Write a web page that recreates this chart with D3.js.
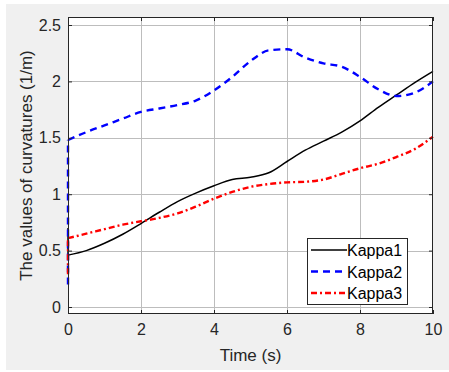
<!DOCTYPE html>
<html>
<head>
<meta charset="utf-8">
<script src="https://cdn.jsdelivr.net/npm/d3@7"></script>
<style>
  html, body { margin: 0; padding: 0; background: #ffffff; }
  svg { display: block; }
  text { font-family: "Liberation Sans", Arial, sans-serif; }
</style>
</head>
<body>
<svg id="chart" width="449" height="372"></svg>
<script>
// Time samples (s)
const time = [0, 0.5, 1, 1.5, 2, 2.5, 3, 3.5, 4, 4.5, 5, 5.5, 6, 6.5, 7, 7.5, 8, 8.5, 9, 9.5, 10];

// Curvature series (1/m)
const kappa1 = [0.46, 0.50, 0.565, 0.645, 0.74, 0.84, 0.935, 1.01, 1.075, 1.13, 1.15, 1.19, 1.29, 1.39, 1.47, 1.55, 1.65, 1.77, 1.88, 1.99, 2.09];
const kappa2 = [1.48, 1.55, 1.61, 1.67, 1.73, 1.76, 1.79, 1.83, 1.92, 2.04, 2.18, 2.275, 2.285, 2.21, 2.16, 2.13, 2.04, 1.93, 1.87, 1.90, 2.00];
const kappa3 = [0.61, 0.65, 0.69, 0.73, 0.76, 0.79, 0.83, 0.89, 0.96, 1.02, 1.065, 1.09, 1.105, 1.11, 1.13, 1.18, 1.23, 1.27, 1.33, 1.40, 1.51];

// Initial transient values at t = 0
const kappaStart = [0.70, 0.20, 0.29];

const seriesNames = ["Kappa1", "Kappa2", "Kappa3"];
const xTicks = [0, 2, 4, 6, 8, 10];
const yTicks = [0, 0.5, 1, 1.5, 2, 2.5];

const svg = d3.select("#chart");
const W = 449, H = 372;
const mLeft = 68, mRight = 433, mTop = 17, mBottom = 314;

// figure background
svg.append("rect").attr("x", 6).attr("y", 4).attr("width", W - 6).attr("height", H - 6).attr("fill", "#f0f0f0");
svg.append("rect").attr("x", mLeft).attr("y", mTop).attr("width", mRight - mLeft).attr("height", mBottom - mTop).attr("fill", "#ffffff");

const x = d3.scaleLinear().domain([0, 10]).range([mLeft, mRight]);
const y = d3.scaleLinear().domain([-0.062, 2.571]).range([mBottom, mTop]);

// grid
const grid = svg.append("g").attr("stroke", "#bdbdbd").attr("stroke-width", 1);
xTicks.slice(1, -1).forEach(t => {
  grid.append("line").attr("x1", Math.round(x(t)) + 0.5).attr("x2", Math.round(x(t)) + 0.5)
    .attr("y1", mTop).attr("y2", mBottom);
});
yTicks.forEach(v => {
  grid.append("line").attr("x1", mLeft).attr("x2", mRight)
    .attr("y1", Math.round(y(v)) + 0.5).attr("y2", Math.round(y(v)) + 0.5);
});

// series lines
const styles = [
  { color: "#000000", width: 1.5, dash: null },
  { color: "#0000ff", width: 2.4, dash: "7,5" },
  { color: "#ff0000", width: 2.4, dash: "6,3,2,3" }
];
const allSeries = [kappa1, kappa2, kappa3];
const line = d3.line().x(d => x(d[0])).y(d => y(d[1])).curve(d3.curveMonotoneX);

const plot = svg.append("g");
allSeries.forEach((vals, i) => {
  const pts = time.map((t, j) => [t, vals[j]]);
  const st = styles[i];
  // initial jump at t = 0
  plot.append("line")
    .attr("x1", x(0)).attr("x2", x(0))
    .attr("y1", y(kappaStart[i])).attr("y2", y(vals[0]))
    .attr("stroke", st.color).attr("stroke-width", st.width)
    .attr("stroke-dasharray", st.dash);
  plot.append("path").datum(pts)
    .attr("d", line)
    .attr("fill", "none")
    .attr("stroke", st.color)
    .attr("stroke-width", st.width)
    .attr("stroke-dasharray", st.dash);
});

// axes box
const axisColor = "#262626";
svg.append("rect").attr("x", mLeft + 0.5).attr("y", mTop + 0.5)
  .attr("width", mRight - mLeft - 1).attr("height", mBottom - mTop - 1)
  .attr("fill", "none").attr("stroke", axisColor).attr("stroke-width", 1);

const xAxis = d3.axisBottom(x).tickValues(xTicks).tickSize(-4).tickPadding(10).tickFormat(d3.format("d"));
const gx = svg.append("g").attr("transform", `translate(0,${mBottom})`).call(xAxis);
const xAxisTop = d3.axisTop(x).tickValues(xTicks).tickSize(-4).tickFormat("");
const gxt = svg.append("g").attr("transform", `translate(0,${mTop})`).call(xAxisTop);
const yAxis = d3.axisLeft(y).tickValues(yTicks).tickSize(-4).tickPadding(7).tickFormat(d => d3.format("")(d));
const gy = svg.append("g").attr("transform", `translate(${mLeft},0)`).call(yAxis);
const yAxisRight = d3.axisRight(y).tickValues(yTicks).tickSize(-4).tickFormat("");
const gyr = svg.append("g").attr("transform", `translate(${mRight},0)`).call(yAxisRight);

[gx, gxt, gy, gyr].forEach(g => {
  g.select(".domain").remove();
  g.selectAll(".tick line").attr("stroke", axisColor);
  g.selectAll(".tick text").attr("fill", axisColor).attr("font-size", 16)
    .attr("font-family", "'Liberation Sans', Arial, sans-serif");
});

// axis labels
svg.append("text").attr("x", (mLeft + mRight) / 2).attr("y", 361)
  .attr("text-anchor", "middle").attr("font-size", 17).attr("fill", axisColor)
  .text("Time (s)");
svg.append("text")
  .attr("transform", `translate(32,${(mTop + mBottom) / 2}) rotate(-90)`)
  .attr("text-anchor", "middle").attr("font-size", 17).attr("fill", axisColor)
  .text("The values of curvatures (1/m)");

// legend
const lg = svg.append("g").attr("transform", "translate(307,238)");
lg.append("rect").attr("x", 0.5).attr("y", 0.5).attr("width", 100).attr("height", 66)
  .attr("fill", "#ffffff").attr("stroke", axisColor).attr("stroke-width", 1);
seriesNames.forEach((name, i) => {
  const yy = 12 + i * 21.5;
  const st = styles[i];
  lg.append("line").attr("x1", 4).attr("x2", 40).attr("y1", yy).attr("y2", yy)
    .attr("stroke", st.color).attr("stroke-width", st.width)
    .attr("stroke-dasharray", st.dash);
  lg.append("text").attr("x", 40).attr("y", yy + 6).attr("font-size", 16).attr("fill", "#000")
    .text(name);
});
</script>
</body>
</html>
